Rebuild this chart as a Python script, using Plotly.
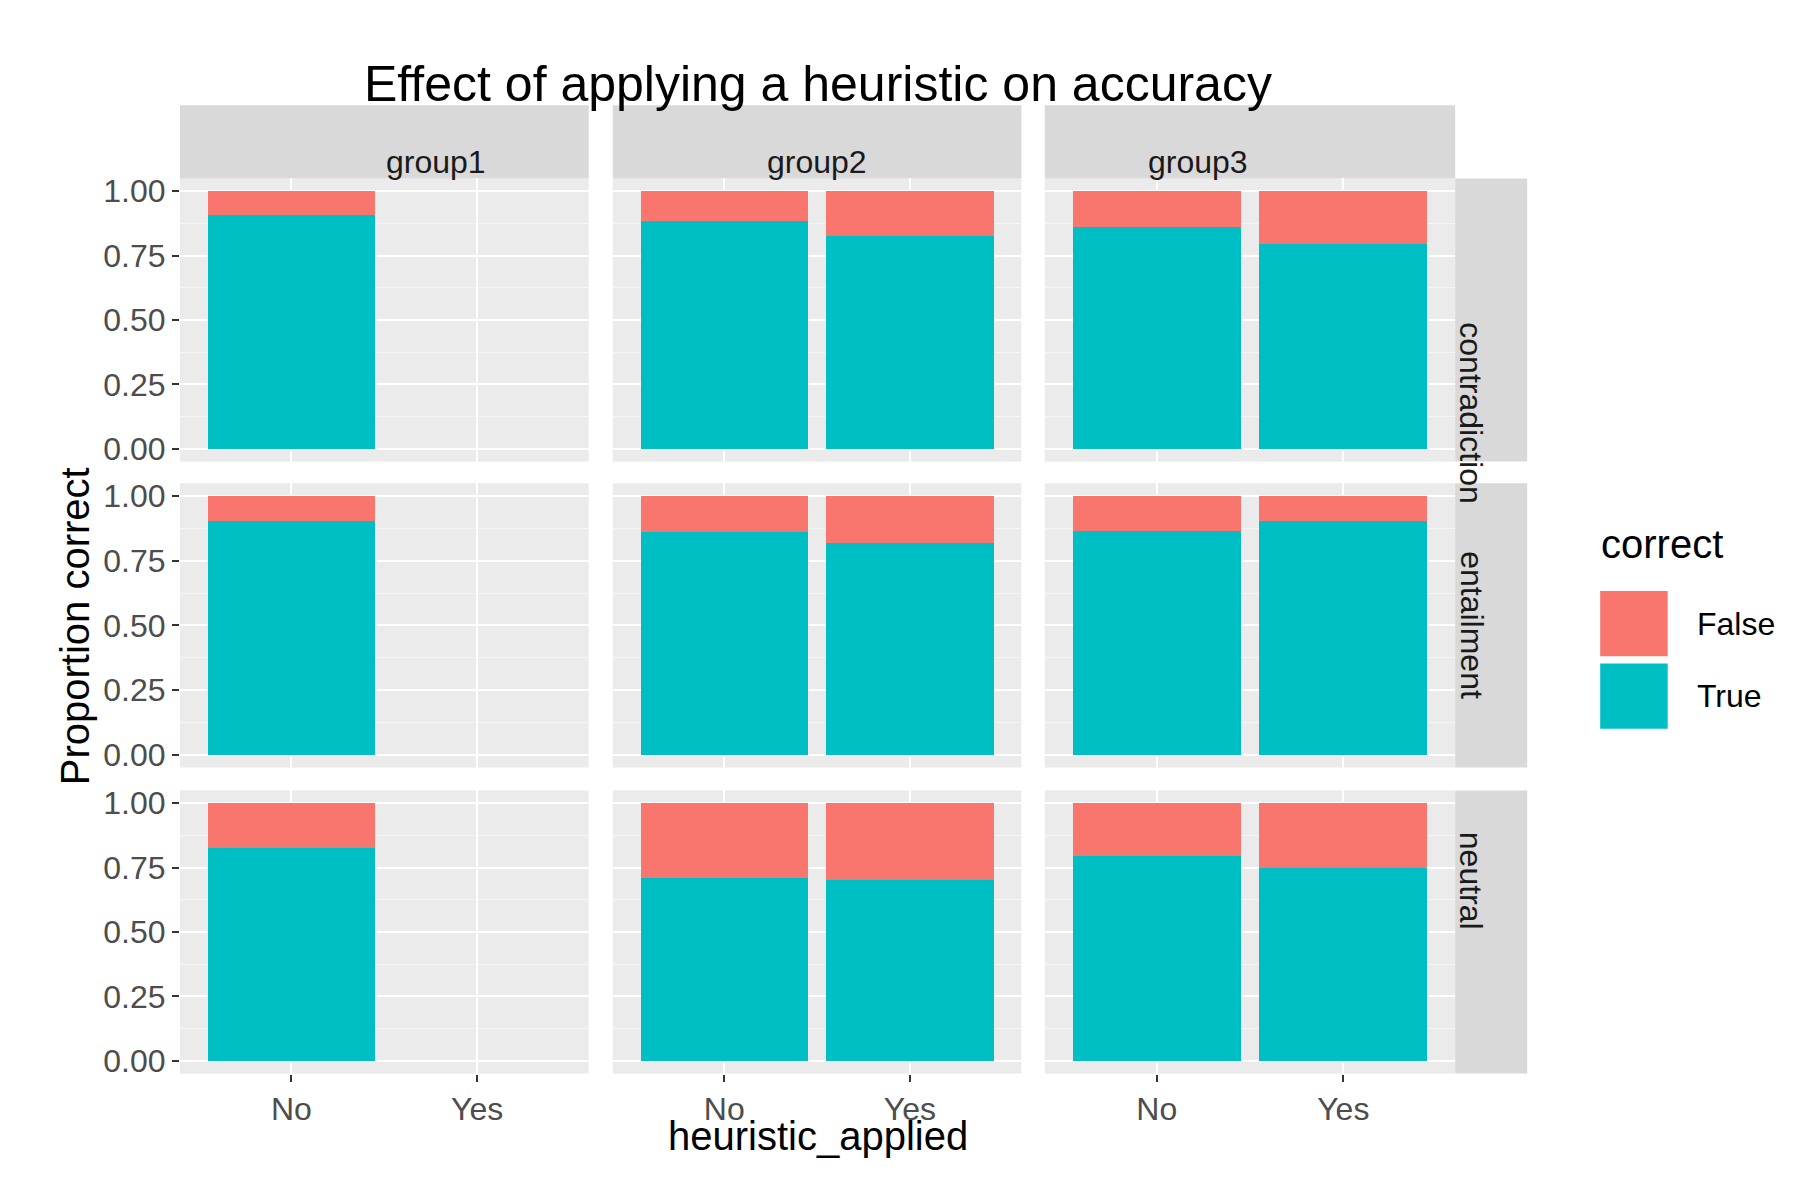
import plotly.graph_objects as go
from plotly.subplots import make_subplots

groups = ["group1", "group2", "group3"]
labels = ["contradiction", "entailment", "neutral"]
heuristic = ["No", "Yes"]
legend_items = ["False", "True"]

# proportion correct (True) per label row, per group: [No, Yes]
true_contradiction = [[0.906, None], [0.884, 0.826], [0.862, 0.795]]
true_entailment = [[0.902, None], [0.862, 0.817], [0.866, 0.902]]
true_neutral = [[0.826, None], [0.710, 0.701], [0.795, 0.750]]
true_rows = [true_contradiction, true_entailment, true_neutral]

TEAL = "#00BFC4"
SALMON = "#F8766D"
FONT = "Liberation Sans, Arial, sans-serif"

fig = make_subplots(rows=3, cols=3)

xdoms = [(0.0955, 0.3226), (0.336, 0.563), (0.576, 0.804)]
ydoms = [(0.622, 0.858), (0.367, 0.604), (0.112, 0.348)]

for r, row in enumerate(true_rows):
    for c, vals in enumerate(row):
        xs = [h for h, v in zip(heuristic, vals) if v is not None]
        t = [v for v in vals if v is not None]
        f = [1 - v for v in t]
        fig.add_trace(go.Bar(x=xs, y=t, marker=dict(color=TEAL, line=dict(width=0)),
                             name="True", showlegend=False), row=r + 1, col=c + 1)
        fig.add_trace(go.Bar(x=xs, y=f, marker=dict(color=SALMON, line=dict(width=0)),
                             name="False", showlegend=False), row=r + 1, col=c + 1)

tickfont = dict(size=32, color="#4D4D4D", family=FONT)
for r in range(3):
    for c in range(3):
        fig.update_xaxes(domain=list(xdoms[c]), type="category", categoryorder="array",
                         categoryarray=heuristic, range=[-0.6, 1.6],
                         showticklabels=(r == 2), ticks="outside" if r == 2 else "",
                         ticklen=7, tickwidth=2, tickcolor="#333333", gridcolor="white", gridwidth=2,
                         showgrid=True, zeroline=False, row=r + 1, col=c + 1, tickfont=tickfont)
        fig.update_yaxes(domain=list(ydoms[r]), range=[-0.05, 1.05], tickvals=[0, 0.25, 0.5, 0.75, 1.0],
                         ticktext=["0.00", "0.25", "0.50", "0.75", "1.00"],
                         showticklabels=(c == 0), ticks="outside" if c == 0 else "",
                         ticklen=7, tickwidth=2, tickcolor="#333333", gridcolor="white", gridwidth=2,
                         minor=dict(tickvals=[0.125, 0.375, 0.625, 0.875], showgrid=True,
                                    gridcolor="#F5F5F5", gridwidth=1),
                         zeroline=False, row=r + 1, col=c + 1, tickfont=tickfont)

shapes = []
annotations = []
stripfont = dict(size=32, color="#1A1A1A", family=FONT)
for c, g in enumerate(groups):
    shapes.append(dict(type="rect", xref="paper", yref="paper", x0=xdoms[c][0], x1=xdoms[c][1],
                       y0=0.858, y1=0.919, fillcolor="#D9D9D9", line=dict(width=0), layer="below"))
    annotations.append(dict(text=g, xref="paper", yref="paper", x=sum(xdoms[c]) / 2, y=0.8885,
                            showarrow=False, font=stripfont))
for r, lab in enumerate(labels):
    shapes.append(dict(type="rect", xref="paper", yref="paper", x0=0.804, x1=0.844,
                       y0=ydoms[r][0], y1=ydoms[r][1], fillcolor="#D9D9D9", line=dict(width=0), layer="below"))
    annotations.append(dict(text=lab, xref="paper", yref="paper", x=0.824, y=sum(ydoms[r]) / 2,
                            textangle=90, showarrow=False, font=stripfont))

# legend drawn by hand to get ggplot-sized keys
key_colors = [SALMON, TEAL]
key_tops = [0.515, 0.4545]
for name, col, top in zip(legend_items, key_colors, key_tops):
    shapes.append(dict(type="rect", xref="paper", yref="paper", x0=0.884, x1=0.9226,
                       y0=top - 0.056, y1=top, fillcolor=col, line=dict(color="white", width=2)))
    annotations.append(dict(text=name, xref="paper", yref="paper", x=0.937, y=top - 0.028,
                            xanchor="left", showarrow=False, font=dict(size=32, color="black", family=FONT)))
annotations.append(dict(text="correct", xref="paper", yref="paper", x=0.884, y=0.553,
                        xanchor="left", showarrow=False, font=dict(size=40, color="black", family=FONT)))

annotations.append(dict(text="heuristic_applied", xref="paper", yref="paper", x=0.45, y=0.04,
                        showarrow=False, font=dict(size=40, color="black", family=FONT)))
annotations.append(dict(text="Proportion correct", xref="paper", yref="paper", x=0.024, y=0.485,
                        textangle=-90, showarrow=False, font=dict(size=40, color="black", family=FONT)))
annotations.append(dict(text="Effect of applying a heuristic on accuracy", xref="paper", yref="paper",
                        x=0.45, y=0.962, showarrow=False, font=dict(size=50, color="black", family=FONT)))

fig.update_layout(
    width=1800, height=1200, barmode="stack", bargap=0.1,
    plot_bgcolor="#EBEBEB", paper_bgcolor="white",
    margin=dict(l=0, r=0, t=0, b=0, autoexpand=False),
    shapes=shapes, annotations=annotations,
    showlegend=False,
    font=dict(family=FONT),
)

fig.write_html("out.html")
